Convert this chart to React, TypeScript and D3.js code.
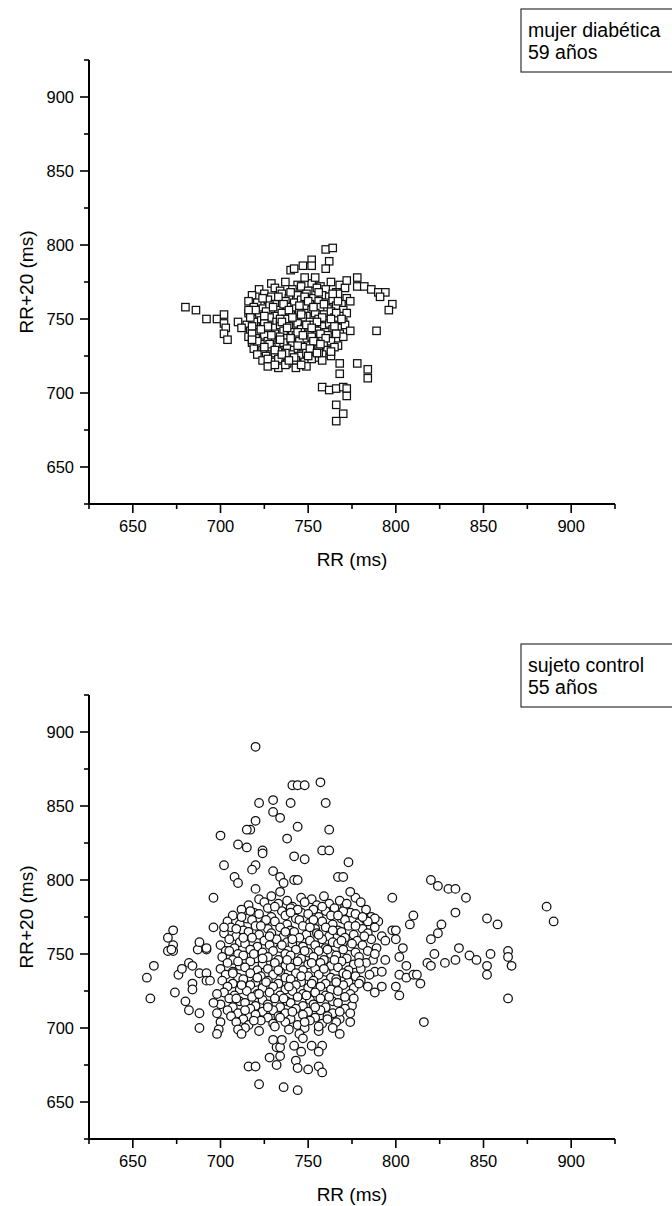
import React from 'react';
import * as d3 from 'd3';

const majorTicks = [650, 700, 750, 800, 850, 900];
const minorTicks = [625, 675, 725, 775, 825, 875, 925];
const xTitle = 'RR (ms)';
const yTitle = 'RR+20 (ms)';
const topLegend = ['mujer diabética', '59 años'];
const bottomLegend = ['sujeto control', '55 años'];

const diabeticOutliers: [number, number][] = [
  [680,758],[686,756],[692,750],[698,750],[702,753],[702,747],[703,744],[702,740],[704,736],[710,748],[712,744],[716,756],[717,751],[718,745],[718,740],[718,736],
  [760,797],[764,798],[762,789],[760,784],[752,790],[747,786],[752,786],[740,783],[742,784],[748,778],[754,778],
  [772,776],[778,778],[778,772],[782,772],[786,770],[790,768],[794,768],[791,765],[798,760],[796,756],[789,742],[774,742],
  [768,720],[778,720],[784,716],[784,710],[768,713],[758,704],[762,702],[766,703],[770,704],[772,703],[772,698],[766,692],[770,686],[766,681],[758,722],[755,727],
];

const diabeticCore: [number, number][] = [
  [729,774],[737,775],[744,773],[752,774],[757,772],[763,775],[768,773],
  [722,770],[731,771],[734,769],[741,770],[746,772],[750,769],[755,771],[760,770],[766,768],[771,771],
  [718,766],[725,767],[729,765],[735,767],[739,764],[744,766],[749,767],[753,764],[758,766],[762,765],[767,767],[772,764],
  [716,762],[721,761],[727,763],[731,760],[737,762],[742,761],[746,763],[751,760],[756,762],[760,761],[764,763],[769,760],[774,762],
  [719,758],[724,757],[728,759],[733,756],[738,758],[743,757],[748,759],[752,756],[757,758],[761,757],[766,759],[770,756],
  [716,754],[722,753],[726,755],[731,752],[735,754],[740,753],[745,755],[749,752],[754,754],[759,753],[763,755],[768,752],[772,754],
  [718,750],[723,749],[728,751],[732,748],[737,750],[742,749],[747,751],[751,748],[756,750],[760,749],[765,751],[770,748],
  [715,746],[720,745],[725,747],[730,744],[734,746],[739,745],[744,747],[748,744],[753,746],[758,745],[762,747],[767,744],[771,746],
  [717,742],[722,741],[727,743],[731,740],[736,742],[741,741],[746,743],[750,740],[755,742],[760,741],[764,743],[768,740],
  [716,738],[720,737],[725,739],[729,736],[734,738],[738,737],[743,739],[748,736],[752,738],[757,737],[761,739],[766,736],[770,738],
  [718,734],[723,733],[727,735],[732,732],[736,734],[741,733],[745,735],[750,732],[754,734],[759,733],[763,735],[767,732],
  [719,730],[724,729],[729,731],[733,728],[738,730],[742,729],[747,731],[752,728],[756,730],[761,729],[765,731],
  [721,726],[726,725],[731,727],[735,724],[740,726],[745,725],[749,727],[754,724],[758,726],[763,725],
  [724,722],[729,721],[733,723],[738,720],[743,722],[748,721],[752,723],
  [727,718],[733,717],[737,719],[743,717],[749,718],
  [724,764],[733,765],[740,768],[748,765],[756,768],[764,767],
  [720,756],[730,758],[736,760],[745,759],[750,762],[759,760],[767,762],
  [725,752],[734,750],[739,756],[746,753],[753,758],[758,751],[766,754],
  [719,748],[727,745],[735,748],[741,751],[749,746],[755,748],[763,750],[769,750],
  [723,743],[729,739],[738,744],[744,741],[752,744],[757,740],[765,745],
  [721,735],[728,733],[734,736],[740,737],[747,739],[753,735],[760,737],[766,740],
  [725,731],[731,729],[737,727],[744,732],[751,730],[757,733],[763,728],
  [727,723],[735,726],[742,724],[750,725],[756,727],[746,719],[739,722],[731,719],
];

const controlOutliers: [number, number][] = [
  [757,866],[741,864],[744,864],[748,864],[720,890],
  [730,854],[722,852],[740,852],[760,852],
  [730,846],[734,842],[720,840],[717,834],[715,834],[744,836],[762,834],
  [700,830],[738,828],[710,824],[715,822],[724,820],[724,818],[758,820],[762,820],
  [742,816],[748,814],[702,810],[720,810],[718,807],[773,812],[730,806],
  [708,802],[710,798],[734,802],[736,798],[742,800],[744,800],[767,802],[770,802],
  [720,794],[734,792],[774,792],[696,788],
  [798,788],[820,800],[824,796],[830,794],[834,794],[840,788],[834,778],[810,776],[808,770],[826,770],[824,764],[820,760],[852,774],[858,770],[886,782],[890,772],[836,754],[798,766],[800,766],[794,759],[800,760],[804,754],[788,774],[784,772],[781,775],[772,784],
  [854,750],[822,750],[842,749],[864,752],[864,748],[866,742],[852,742],[852,736],[864,720],[846,746],[834,746],[828,744],[818,744],[820,742],[816,704],
  [802,748],[806,742],[802,736],[806,734],[810,736],[812,736],[814,730],[800,728],[802,722],[794,746],[792,738],[792,728],[788,750],[788,724],[774,710],[774,704],[764,700],[768,696],
  [662,742],[658,734],[660,720],[674,724],[676,736],[678,740],[682,744],[684,742],[684,730],[684,726],[680,718],[682,712],[688,737],[692,737],[692,732],[694,732],[688,710],[688,700],[673,752],[670,752],[687,753],[692,753],[698,723],[696,717],[698,710],[700,704],[699,699],[698,696],[710,699],[712,696],
  [673,766],[670,761],[673,756],[672,753],[688,758],[692,754],[696,768],[702,768],
  [716,674],[720,674],[722,662],[736,660],[744,658],[728,680],[732,675],[734,681],[732,687],[734,687],[743,678],[750,672],[744,673],[756,674],[758,670],[752,688],[758,688],[756,684],[742,688],[746,684],[730,692],[735,692],[745,696],[747,693],[756,701],
];

const controlCore: [number, number][] = [
  [722,787],[729,789],[738,786],[746,788],[752,787],[759,789],[768,786],[777,788],
  [716,783],[725,785],[733,784],[741,782],[748,785],[755,783],[762,784],[771,782],[780,785],
  [712,780],[719,778],[727,781],[735,779],[740,781],[746,778],[753,780],[760,779],[765,781],[774,778],[783,780],
  [707,776],[715,774],[722,777],[729,775],[737,776],[743,774],[750,777],[756,775],[763,776],[769,774],[777,777],[786,775],
  [704,772],[711,770],[718,773],[725,771],[731,772],[738,770],[745,773],[751,771],[758,772],[764,770],[771,773],[779,771],[790,772],
  [706,768],[713,766],[720,769],[727,767],[734,768],[740,766],[747,769],[754,767],[760,768],[767,766],[773,769],[781,767],[788,768],
  [702,764],[709,762],[716,765],[722,763],[729,764],[736,762],[742,765],[749,763],[755,764],[762,762],[769,765],[776,763],[784,764],[792,762],
  [705,760],[711,758],[718,761],[725,759],[732,760],[738,758],[745,761],[751,759],[758,760],[764,758],[771,761],[778,759],[786,760],
  [700,756],[708,754],[714,757],[721,755],[728,756],[734,754],[741,757],[747,755],[754,756],[760,754],[767,757],[774,755],[781,756],[789,754],
  [703,752],[710,750],[717,753],[724,751],[730,752],[737,750],[743,753],[750,751],[756,752],[763,750],[770,753],[777,751],[784,752],
  [701,748],[707,746],[713,749],[720,747],[727,748],[733,746],[740,749],[746,747],[753,748],[759,746],[766,749],[772,747],[779,748],[787,746],
  [704,744],[711,742],[717,745],[724,743],[731,744],[737,742],[744,745],[750,743],[757,744],[763,742],[769,745],[776,743],[783,744],
  [700,740],[707,738],[714,741],[721,739],[727,740],[734,738],[740,741],[747,739],[754,740],[760,738],[767,741],[773,739],[780,740],[788,738],
  [703,736],[710,734],[717,737],[723,735],[730,736],[737,734],[743,737],[750,735],[756,736],[763,734],[770,737],[777,735],[785,736],
  [701,732],[707,730],[713,733],[720,731],[727,732],[733,730],[740,733],[746,731],[753,732],[760,730],[766,733],[773,731],[780,732],
  [704,728],[711,726],[717,729],[724,727],[730,728],[737,726],[743,729],[750,727],[757,728],[763,726],[770,729],[776,727],[784,728],
  [702,724],[708,722],[715,725],[721,723],[728,724],[734,722],[741,725],[747,723],[754,724],[760,722],[767,725],[774,723],
  [705,720],[711,718],[718,721],[724,719],[731,720],[738,718],[744,721],[751,719],[757,720],[764,718],[771,721],
  [700,716],[707,714],[714,717],[720,715],[727,716],[734,714],[740,717],[747,715],[753,716],[760,714],[767,717],[775,715],
  [704,712],[710,710],[717,713],[724,711],[730,712],[737,710],[743,713],[750,711],[757,712],[764,710],[771,713],
  [706,708],[713,706],[720,709],[727,707],[733,708],[740,706],[747,709],[754,707],[761,708],[768,706],
  [709,704],[716,702],[723,705],[730,703],[737,704],[744,702],[751,705],[758,703],[766,704],
  [714,700],[722,698],[731,701],[739,699],[748,700],[756,698],
  [717,779],[731,782],[744,780],[758,782],[770,779],
  [712,775],[726,773],[740,778],[753,773],[767,776],[782,774],
  [709,767],[723,769],[737,765],[751,768],[764,766],[777,769],
  [713,761],[728,762],[741,760],[756,763],[769,759],[782,762],
  [705,752],[719,750],[735,756],[748,752],[761,753],[775,757],
  [710,745],[724,747],[738,746],[752,744],[765,746],[779,744],
  [707,737],[721,734],[733,739],[746,735],[759,740],[772,736],
  [712,729],[726,731],[739,728],[752,730],[766,731],[779,730],
  [709,720],[722,723],[736,720],[749,722],[762,721],[776,720],
  [714,712],[727,714],[741,711],[754,714],[768,711],
  [719,705],[734,707],[748,704],[761,706],
];

const FONT = 'Liberation Sans, Arial, Helvetica, sans-serif';

const x = d3.scaleLinear().domain([625, 925]).range([89, 615]);
const yBase = d3.scaleLinear().domain([625, 925]).range([504, 60]);

function Panel({ dy, points, marker, legend }: { dy: number; points: [number, number][]; marker: 'square' | 'circle'; legend: string[] }) {
  const y = (v: number) => yBase(v) + dy;
  const x0 = x.range()[0];
  const x1 = x.range()[1];
  const yb = y(625);
  const yt = y(925);
  return (
    <g>
      {points.map((p, i) =>
        marker === 'square' ? (
          <rect key={i} x={x(p[0]) - 3.7} y={y(p[1]) - 3.7} width={7.4} height={7.4} fill="#fff" stroke="#111" strokeWidth={1.25} />
        ) : (
          <circle key={i} cx={x(p[0])} cy={y(p[1])} r={4.3} fill="#fff" stroke="#111" strokeWidth={1.25} />
        )
      )}
      <line x1={x0} x2={x1} y1={yb} y2={yb} stroke="#000" strokeWidth={2} />
      <line x1={x0} x2={x0} y1={yt} y2={yb} stroke="#000" strokeWidth={2} />
      {majorTicks.map((t) => (
        <g key={'xm' + t}>
          <line x1={x(t)} x2={x(t)} y1={yb} y2={yb + 9} stroke="#000" strokeWidth={1.6} />
          <text x={x(t)} y={yb + 28} textAnchor="middle" fontSize={16.5} fontFamily={FONT} fill="#000">{t}</text>
        </g>
      ))}
      {minorTicks.map((t) => (
        <line key={'xn' + t} x1={x(t)} x2={x(t)} y1={yb} y2={yb + 5} stroke="#000" strokeWidth={1.6} />
      ))}
      {majorTicks.map((t) => (
        <g key={'ym' + t}>
          <line x1={x0 - 9} x2={x0} y1={y(t)} y2={y(t)} stroke="#000" strokeWidth={1.6} />
          <text x={x0 - 15} y={y(t) + 6} textAnchor="end" fontSize={16.5} fontFamily={FONT} fill="#000">{t}</text>
        </g>
      ))}
      {minorTicks.map((t) => (
        <line key={'yn' + t} x1={x0 - 5} x2={x0} y1={y(t)} y2={y(t)} stroke="#000" strokeWidth={1.6} />
      ))}
      <text x={(x0 + x1) / 2} y={yb + 62} textAnchor="middle" fontSize={19} fontFamily={FONT} fill="#000">{xTitle}</text>
      <text transform={`translate(33,${(yt + yb) / 2}) rotate(-90)`} textAnchor="middle" fontSize={19} fontFamily={FONT} fill="#000">{yTitle}</text>
      <rect x={521} y={9 + dy} width={160} height={63} fill="#fff" stroke="#333" strokeWidth={1.2} />
      <text x={528} y={37 + dy} fontSize={19.5} fontFamily={FONT} fill="#000">{legend[0]}</text>
      <text x={528} y={59 + dy} fontSize={19.5} fontFamily={FONT} fill="#000">{legend[1]}</text>
    </g>
  );
}

export default function App() {
  return (
    <svg width={672} height={1206} style={{ position: 'absolute', left: 0, top: 0, background: '#fff' }}>
      <rect x={0} y={0} width={672} height={1206} fill="#fff" />
      <Panel dy={0} points={[...diabeticCore, ...diabeticOutliers]} marker="square" legend={topLegend} />
      <Panel dy={635} points={[...controlCore, ...controlOutliers]} marker="circle" legend={bottomLegend} />
    </svg>
  );
}
